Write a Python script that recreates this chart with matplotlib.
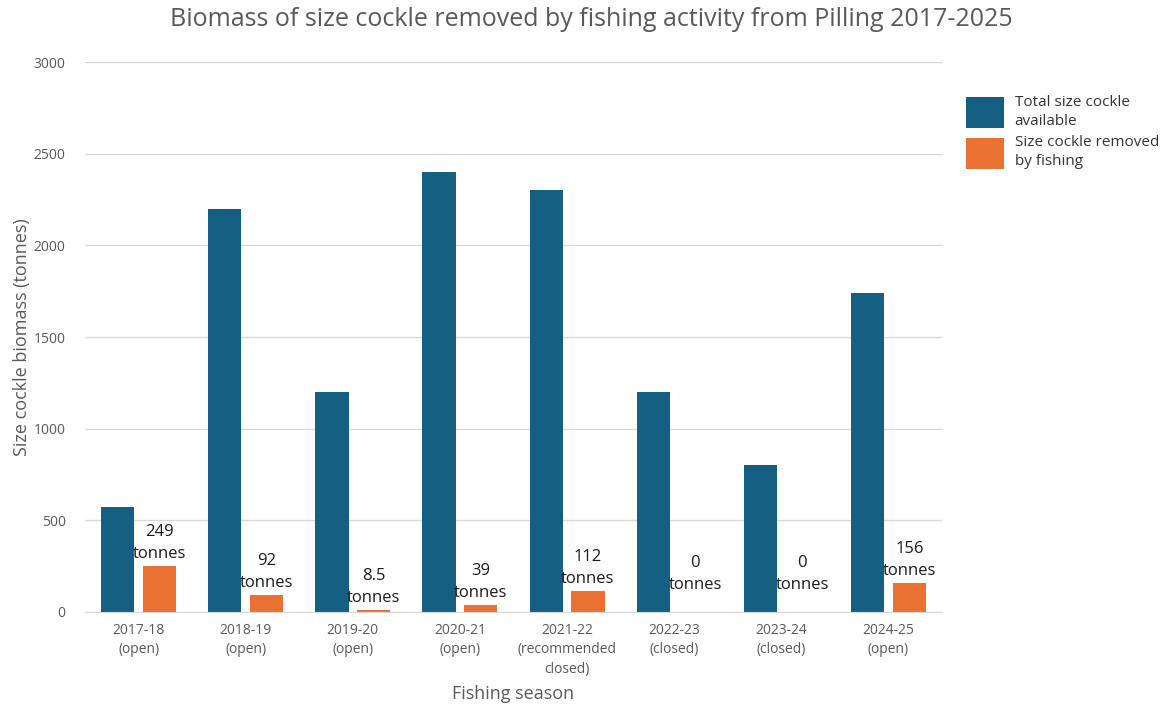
import matplotlib.pyplot as plt
import numpy as np

plt.rcParams['font.family'] = ['Open Sans', 'DejaVu Sans']

seasons = ['2017-18\n(open)', '2018-19\n(open)', '2019-20\n(open)', '2020-21\n(open)',
           '2021-22\n(recommended\nclosed)', '2022-23\n(closed)', '2023-24\n(closed)',
           '2024-25\n(open)']
total_available = [570, 2200, 1200, 2400, 2300, 1200, 800, 1740]
removed = [249, 92, 8.5, 39, 112, 0, 0, 156]
removed_labels = ['249', '92', '8.5', '39', '112', '0', '0', '156']

blue = '#156082'
orange = '#e97132'
grey = '#595959'

fig = plt.figure(figsize=(11.71, 7.04), dpi=100)
ax = fig.add_axes([0.0726, 0.1307, 0.7318, 0.7812])

x = np.arange(len(seasons))
w = 0.31
ax.bar(x - 0.195, total_available, w, color=blue, label='Total size cockle\navailable')
bars = ax.bar(x + 0.195, removed, w, color=orange, label='Size cockle removed\nby fishing')

# etiquettes au-dessus des barres oranges (un peu plus haut pour les zéros)
for b, lab in zip(bars, removed_labels):
    off = 14 if b.get_height() == 0 else 3
    ax.annotate(lab + '\ntonnes', (b.get_x() + b.get_width() / 2, b.get_height()),
                xytext=(0, off), textcoords='offset points', ha='center', va='bottom',
                fontsize=12, color='#1a1a1a', linespacing=1.5)

ax.set_xlim(-0.5, len(seasons) - 0.5)
ax.set_ylim(0, 3000)
ax.set_yticks(range(0, 3001, 500))
ax.set_xticks(x)
ax.set_xticklabels(seasons, fontsize=10, color=grey, linespacing=1.4)
ax.tick_params(axis='y', labelsize=10, labelcolor=grey, length=0, pad=14)
ax.tick_params(axis='x', length=0, pad=8)
ax.grid(axis='y', color='#d9d9d9', linewidth=1)
ax.set_axisbelow(True)
for s in ['top', 'right', 'left']:
    ax.spines[s].set_visible(False)
ax.spines['bottom'].set_color('#d9d9d9')

ax.set_ylabel('Size cockle biomass (tonnes)', fontsize=13, color=grey, labelpad=2)
ax.set_xlabel('Fishing season', fontsize=13, color=grey, labelpad=6)
fig.suptitle('Biomass of size cockle removed by fishing activity from Pilling 2017-2025',
             x=0.505, y=0.99, fontsize=18, color=grey)

leg = ax.legend(loc='upper left', bbox_to_anchor=(0.813, 0.885), bbox_transform=fig.transFigure,
                frameon=False, fontsize=11, handlelength=2.5, handleheight=2.8,
                handletextpad=0.7, labelspacing=0.45, labelcolor='#333333')
for t in leg.get_texts():
    t.set_linespacing(1.35)

fig.savefig('out.png', dpi=100)
